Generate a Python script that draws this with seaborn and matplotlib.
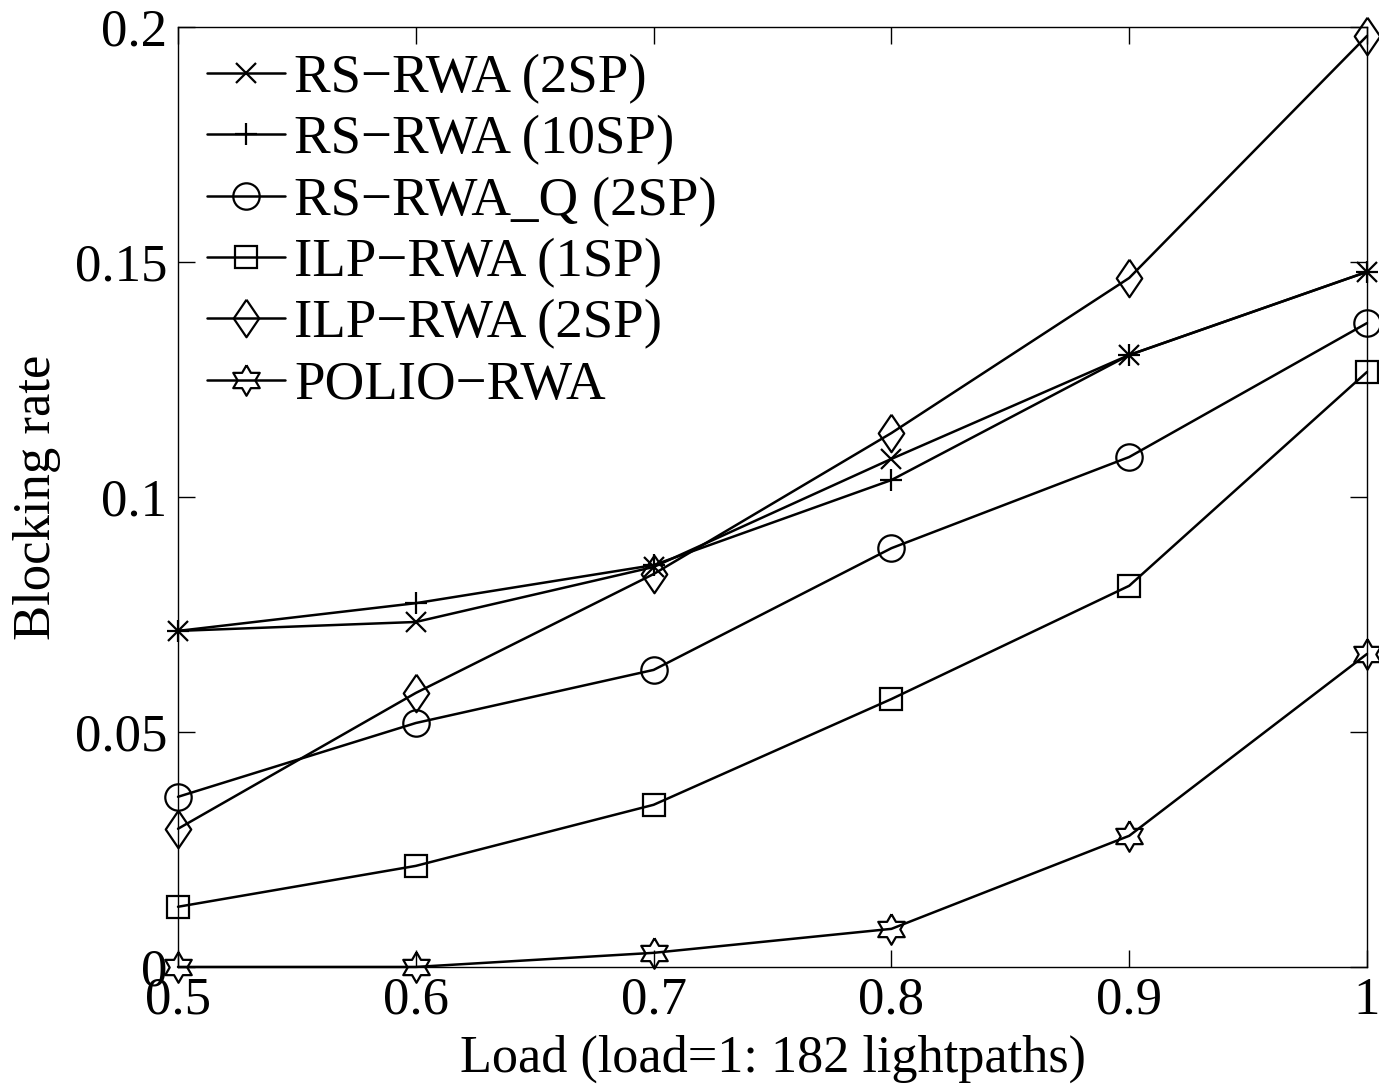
import numpy as np
import pandas as pd
import matplotlib
matplotlib.use("Agg")
import matplotlib.pyplot as plt
import seaborn as sns

# data
load = [0.5, 0.6, 0.7, 0.8, 0.9, 1.0]
rs_2sp = [0.0715, 0.0734, 0.0851, 0.1081, 0.1302, 0.1479]
rs_10sp = [0.0715, 0.0774, 0.0855, 0.1036, 0.1302, 0.1479]
rs_q_2sp = [0.0362, 0.0519, 0.0632, 0.0891, 0.1085, 0.1370]
ilp_1sp = [0.0128, 0.0215, 0.0345, 0.0570, 0.0811, 0.1266]
ilp_2sp = [0.0294, 0.0583, 0.0836, 0.1136, 0.1466, 0.1981]
polio = [0.0, 0.0, 0.0030, 0.0081, 0.0279, 0.0666]

labels = ["RS\u2212RWA (2SP)", "RS\u2212RWA (10SP)", "RS\u2212RWA_Q (2SP)",
          "ILP\u2212RWA (1SP)", "ILP\u2212RWA (2SP)", "POLIO\u2212RWA"]
series = [rs_2sp, rs_10sp, rs_q_2sp, ilp_1sp, ilp_2sp, polio]

# hexagram marker (MATLAB 'h'), closed outline
ang = np.deg2rad(90 + 30 * np.arange(13))
rad = np.where(np.arange(13) % 2 == 0, 1.0, 1 / np.sqrt(3))
hexagram = list(zip(rad * np.cos(ang), rad * np.sin(ang)))
# MATLAB-style diamond (wider than mpl 'd')
diamond = [(0, 1), (0.68, 0), (0, -1), (-0.68, 0), (0, 1)]

markers = ["x", "+", "o", "s", diamond, hexagram]
msizes = [14, 16, 19, 16, 27, 22]


def plot_results(output_image="out.png"):
    sns.set_style("ticks")
    plt.rcParams['font.family'] = ['Liberation Serif', 'DejaVu Serif']
    plt.rcParams['text.color'] = 'k'
    plt.rcParams['axes.labelcolor'] = 'k'
    plt.rcParams['xtick.color'] = 'k'
    plt.rcParams['ytick.color'] = 'k'

    fig = plt.figure(figsize=(13.79, 10.84), dpi=100)
    ax = fig.add_axes([0.1291, 0.1080, 0.8622, 0.8671])

    for vals, lab, mk, ms in zip(series, labels, markers, msizes):
        df = pd.DataFrame({"Load": load, "Blocking rate": vals})
        sns.lineplot(data=df, x="Load", y="Blocking rate", ax=ax,
                     color="k", linewidth=1.8, marker=mk, markersize=ms,
                     markerfacecolor="none", markeredgecolor="k",
                     markeredgewidth=1.6, label=lab, clip_on=False)

    ax.set_xlim(0.5, 1.0)
    ax.set_ylim(0, 0.2)
    ax.set_xticks([0.5, 0.6, 0.7, 0.8, 0.9, 1.0])
    ax.set_xticklabels(["0.5", "0.6", "0.7", "0.8", "0.9", "1"])
    ax.set_yticks([0, 0.05, 0.1, 0.15, 0.2])
    ax.set_yticklabels(["0", "0.05", "0.1", "0.15", "0.2"])
    ax.tick_params(direction="in", length=12, width=1, labelsize=38,
                   top=True, right=True, colors="k", labelcolor="k")
    ax.tick_params(axis="x", pad=7)
    ax.tick_params(axis="y", pad=8)
    for sp in ax.spines.values():
        sp.set_visible(True)
        sp.set_linewidth(1.0)
        sp.set_color("k")

    ax.set_xlabel("Load (load=1: 182 lightpaths)", fontsize=37.6, labelpad=7,
                  color="k")
    ax.set_ylabel("Blocking rate", fontsize=38, labelpad=10, color="k")

    leg = ax.legend(loc="upper left", bbox_to_anchor=(0.0244, 0.972),
                    frameon=False, fontsize=39.5, handlelength=1.43,
                    handletextpad=0.16, borderpad=0, borderaxespad=0,
                    labelspacing=0.2)
    for t in leg.get_texts():
        t.set_color("k")

    fig.savefig(output_image, dpi=100)


if __name__ == "__main__":
    plot_results()
